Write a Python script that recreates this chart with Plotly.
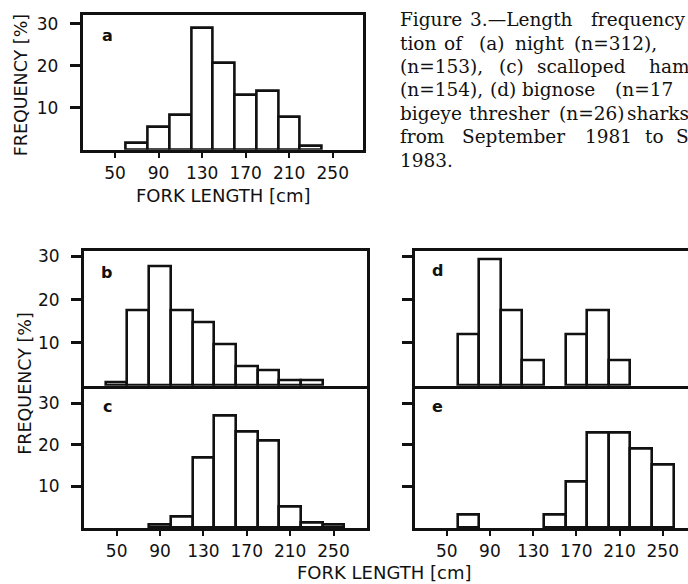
import plotly.graph_objects as go

# ---- data (percent frequency per 20-cm fork-length bin, bin centres in cm) ----
bin_centers = [50, 70, 90, 110, 130, 150, 170, 190, 210, 230, 250]
night = [0, 1.6, 5.4, 8.3, 29.0, 20.6, 13.1, 14.0, 7.9, 0.9, 0]
silky = [0.7, 17.4, 27.8, 17.4, 14.8, 9.6, 4.4, 3.6, 1.3, 1.3, 0]
scalloped = [0, 0, 0.7, 2.8, 16.9, 27.0, 23.2, 21.0, 5.2, 1.2, 0.7]
bignose = [0, 11.8, 29.3, 17.5, 5.8, 0, 11.8, 17.5, 5.8, 0, 0]
thresher = [0, 3.3, 0, 0, 0, 3.3, 11.1, 22.8, 22.8, 19.0, 15.2]
x_ticks = [50, 90, 130, 170, 210, 250]
y_ticks = [10, 20, 30]
panel_letters = ["a", "b", "c", "d", "e"]
# caption words, as far as the (cropped) figure shows them
caption_words = [
    ["Figure", "3.\u2014Length", "frequency"],
    ["tion", "of", "(a)", "night", "(n=312),"],
    ["(n=153),", "(c)", "scalloped", "ham"],
    ["(n=154),", "(d)", "bignose", "(n=17"],
    ["bigeye", "thresher", "(n=26)", "sharks"],
    ["from", "September", "1981", "to", "S"],
    ["1983."],
]
# left x of each word (px) to mimic the justified column
caption_x = [
    [398, 468, 589],
    [398, 442, 477, 513, 572],
    [398, 497, 535, 647],
    [398, 488, 520, 613],
    [398, 467, 557, 625],
    [398, 460, 583, 643, 674],
    [398],
]

W, H = 688, 584
def px(x):
    return x / W
def py(y):
    return 1 - y / H

SANS = "DejaVu Sans"
SERIF = "DejaVu Serif"
INK = "#111111"

fig = go.Figure()
series = [night, silky, scalloped, bignose, thresher]
for i, vals in enumerate(series):
    k = "" if i == 0 else str(i + 1)
    xs = [c for c, v in zip(bin_centers, vals) if v > 0]
    ys = [v for v in vals if v > 0]
    fig.add_trace(go.Bar(
        x=xs, y=ys, width=20, xaxis="x" + k, yaxis="y" + k,
        marker=dict(color="white", line=dict(color=INK, width=2.6)),
        showlegend=False, hoverinfo="skip"))

# panel geometry in pixels: (left, right, top, bottom), x range, y range,
# x labels?, y labels?, right border?, top border?
panels = [
    ((82.7, 363.0, 10.0, 146.0), [20.3, 277.8], [0, 32.1], True, True, True, True),
    ((84.0, 366.7, 248.5, 384.0), [19.9, 280.6], [0, 31.2], False, True, True, True),
    ((84.0, 366.7, 384.0, 527.5), [19.9, 280.6], [0, 34.2], True, True, True, False),
    ((415.0, 688.0, 248.5, 384.0), [20.65, 273.4], [0, 31.1], False, False, False, True),
    ((415.0, 688.0, 384.0, 527.5), [20.65, 273.4], [0, 34.2], True, False, False, False),
]

layout = dict(
    width=W, height=H, margin=dict(l=0, r=0, t=0, b=0),
    paper_bgcolor="white", plot_bgcolor="white", bargap=0,
    font=dict(family=SANS, color=INK),
)
for i, (box, xr, yr, xlabels, ylabels, ymirror, xmirror) in enumerate(panels):
    l, r, t, b = box
    k = "" if i == 0 else str(i + 1)
    layout["xaxis" + k] = dict(
        domain=[px(l), px(r)], range=xr, anchor="y" + k,
        showline=True, linecolor=INK, linewidth=3, mirror=xmirror,
        showgrid=False, zeroline=False, fixedrange=True,
        tickmode="array", tickvals=x_ticks,
        ticktext=[str(v) for v in x_ticks] if xlabels else [""] * len(x_ticks),
        ticks="outside" if xlabels else "", ticklen=5, tickwidth=2, tickcolor=INK,
        showticklabels=xlabels, tickfont=dict(family=SANS, size=17, color=INK),
        ticklabelstandoff=1,
    )
    layout["yaxis" + k] = dict(
        domain=[py(b), py(t)], range=yr, anchor="x" + k,
        showline=True, linecolor=INK, linewidth=3, mirror=ymirror,
        showgrid=False, zeroline=False, fixedrange=True,
        tickmode="array", tickvals=y_ticks,
        ticks="outside", ticklen=10, tickwidth=2.5, tickcolor=INK,
        showticklabels=ylabels, tickfont=dict(family=SANS, size=17, color=INK),
        ticklabelstandoff=8,
    )
fig.update_layout(**layout)

ann = []
letter_pos = [(107, 31), (106, 269.5), (107, 405), (437, 268), (437, 404.5)]
for letter, (x, y) in zip(panel_letters, letter_pos):
    ann.append(dict(text="<b>" + letter + "</b>", x=px(x), y=py(y), xref="paper", yref="paper",
                    showarrow=False, xanchor="center", yanchor="middle",
                    font=dict(family=SANS, size=16, color=INK)))
# axis titles
for (x, y) in [(223, 192), (384, 572)]:
    ann.append(dict(text="FORK LENGTH [cm]", x=px(x), y=py(y), xref="paper", yref="paper",
                    showarrow=False, xanchor="center", yanchor="middle",
                    font=dict(family=SANS, size=18, color=INK)))
for (x, y) in [(21, 81), (25, 382)]:
    ann.append(dict(text="FREQUENCY [%]", x=px(x), y=py(y), xref="paper", yref="paper",
                    showarrow=False, xanchor="center", yanchor="middle", textangle=-90,
                    font=dict(family=SANS, size=17.5, color=INK)))
# caption (justified column, cropped at the right edge like the source)
baselines = [25, 48.5, 72, 95.5, 119, 143, 166.5]
for words, xs, yb in zip(caption_words, caption_x, baselines):
    for w, x in zip(words, xs):
        ann.append(dict(text=w, x=px(x), y=py(yb - 10), xref="paper", yref="paper",
                        showarrow=False, xanchor="left", yanchor="middle",
                        font=dict(family=SERIF, size=18.5, color=INK)))
fig.update_layout(annotations=ann)

fig.write_html("out.html", config={"displayModeBar": False},
               post_script="document.body.style.margin='0px';")
